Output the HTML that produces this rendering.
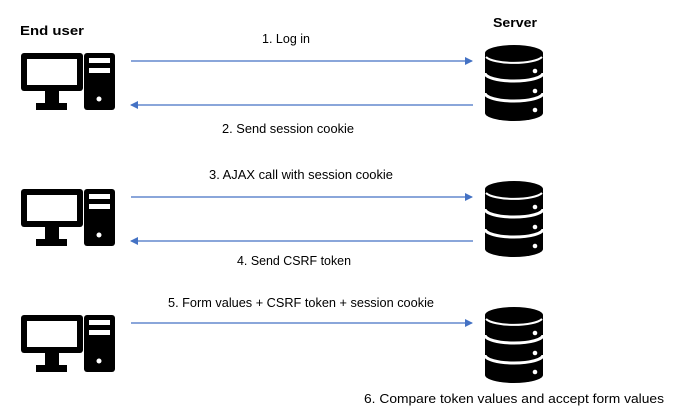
<!DOCTYPE html>
<html><head><meta charset="utf-8"><style>
body{margin:0;background:#fff;}
svg{display:block;font-family:"Liberation Sans",Calibri,sans-serif;}
</style></head><body>
<svg width="678" height="415" viewBox="0 0 678 415">
<defs>
<g id="pc">
  <rect x="21" y="53" width="62" height="38" rx="3" fill="#000"/>
  <rect x="27" y="59" width="50" height="26" fill="#fff"/>
  <rect x="45" y="90" width="14" height="14" fill="#000"/>
  <rect x="36" y="103" width="31" height="7" fill="#000"/>
  <rect x="84" y="53" width="31" height="57" rx="3" fill="#000"/>
  <rect x="89" y="58" width="21" height="5" fill="#fff"/>
  <rect x="89" y="68" width="21" height="5" fill="#fff"/>
  <circle cx="99" cy="99" r="2.5" fill="#fff"/>
</g>
<g id="srv">
  <path d="M485 53 A29 8 0 0 1 543 53 L543 113 A29 8 0 0 1 485 113 Z" fill="#000"/>
  <path d="M486 57 A29 8 0 0 0 542 57" fill="none" stroke="#fff" stroke-width="2"/>
  <path d="M485 73 A29 8 0 0 0 543 73" fill="none" stroke="#fff" stroke-width="3"/>
  <path d="M485 93 A29 8 0 0 0 543 93" fill="none" stroke="#fff" stroke-width="3"/>
  <circle cx="535" cy="71" r="2.3" fill="#fff"/>
  <circle cx="535" cy="91" r="2.3" fill="#fff"/>
  <circle cx="535" cy="110" r="2.3" fill="#fff"/>
</g>
<marker id="ah" markerWidth="8" markerHeight="8" refX="7" refY="4" orient="auto" markerUnits="userSpaceOnUse">
  <path d="M0 0 L8 4 L0 8 Z" fill="#4472c4"/>
</marker>
</defs>
<text x="20" y="35" font-size="13" font-weight="bold" textLength="64" lengthAdjust="spacingAndGlyphs">End user</text>
<text x="493" y="27" font-size="13" font-weight="bold" textLength="44" lengthAdjust="spacingAndGlyphs">Server</text>

<use href="#pc"/>
<use href="#srv"/>
<use href="#pc" y="136"/>
<use href="#srv" y="136"/>
<use href="#pc" y="262"/>
<use href="#srv" y="262"/>

<g stroke="#4472c4" stroke-width="1.2" fill="none">
<line x1="131" y1="61" x2="472" y2="61" marker-end="url(#ah)"/>
<line x1="473" y1="105" x2="131" y2="105" marker-end="url(#ah)"/>
<line x1="131" y1="197" x2="472" y2="197" marker-end="url(#ah)"/>
<line x1="473" y1="241" x2="131" y2="241" marker-end="url(#ah)"/>
<line x1="131" y1="323" x2="472" y2="323" marker-end="url(#ah)"/>
</g>
<g font-size="12.5" fill="#000" lengthAdjust="spacingAndGlyphs">
<text x="262" y="43" textLength="48" lengthAdjust="spacingAndGlyphs">1. Log in</text>
<text x="222" y="133" textLength="132" lengthAdjust="spacingAndGlyphs">2. Send session cookie</text>
<text x="209" y="179" textLength="184" lengthAdjust="spacingAndGlyphs">3. AJAX call with session cookie</text>
<text x="237" y="265" textLength="114" lengthAdjust="spacingAndGlyphs">4. Send CSRF token</text>
<text x="168" y="307" textLength="266" lengthAdjust="spacingAndGlyphs">5. Form values + CSRF token + session cookie</text>
<text x="364" y="403" textLength="300" lengthAdjust="spacingAndGlyphs">6. Compare token values and accept form values</text>
</g>
</svg>
</body></html>
